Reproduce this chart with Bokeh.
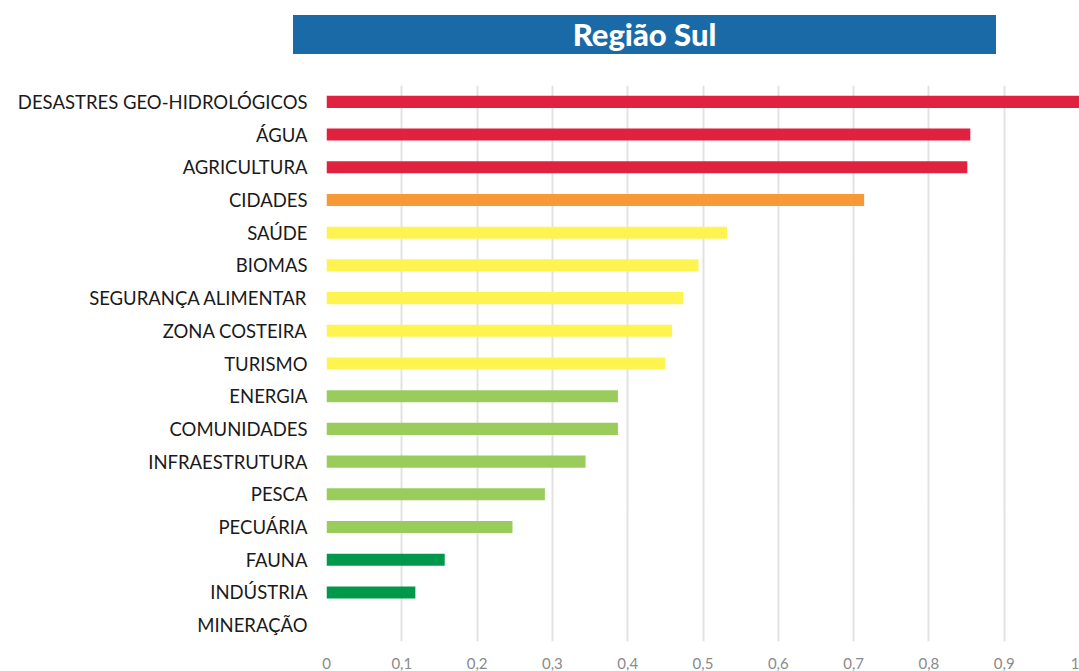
from bokeh.plotting import figure
from bokeh.models import Div, FactorRange, Range1d, FixedTicker, CustomJSTickFormatter
from bokeh.layouts import column
from bokeh.embed import file_html
from bokeh.resources import INLINE

categories = ["DESASTRES GEO-HIDROLÓGICOS", "ÁGUA", "AGRICULTURA", "CIDADES", "SAÚDE",
              "BIOMAS", "SEGURANÇA ALIMENTAR", "ZONA COSTEIRA", "TURISMO", "ENERGIA",
              "COMUNIDADES", "INFRAESTRUTURA", "PESCA", "PECUÁRIA", "FAUNA",
              "INDÚSTRIA", "MINERAÇÃO"]
values = [1.0, 0.855, 0.851, 0.714, 0.532, 0.494, 0.474, 0.459, 0.450, 0.387,
          0.387, 0.344, 0.290, 0.247, 0.157, 0.118, 0.0]
colors = ["#E0213F", "#E0213F", "#E0213F", "#F89938", "#FFF350", "#FFF350", "#FFF350",
          "#FFF350", "#FFF350", "#99CC5A", "#99CC5A", "#99CC5A", "#99CC5A", "#99CC5A",
          "#00994C", "#00994C", "#00994C"]
ticks = [0, 0.1, 0.2, 0.3, 0.4, 0.5, 0.6, 0.7, 0.8, 0.9, 1.0]
title = "Região Sul"

banner = Div(text=title, width=703, height=39, margin=(15, 0, 0, 293),
             styles={"background-color": "#1A6AA7", "color": "white",
                     "font-family": "Lato", "font-weight": "900", "font-size": "31px",
                     "text-align": "center", "line-height": "39px"})

p = figure(width=1079, height=617, output_backend="svg", toolbar_location=None,
           y_range=FactorRange(*reversed(categories)), x_range=Range1d(0, 1.0),
           min_border_left=326, min_border_right=0, min_border_top=31, min_border_bottom=28)
p.hbar(y=categories, right=values, height=0.37, fill_color=colors, line_color=None)

p.outline_line_color = None
p.ygrid.grid_line_color = None
p.xgrid.grid_line_color = "#E2E2E2"
p.xgrid.grid_line_width = 2
p.xaxis.ticker = FixedTicker(ticks=ticks)
p.xaxis.formatter = CustomJSTickFormatter(code="var s = tick.toFixed(1).replace('.', ','); return s == '0,0' ? '0' : (s == '1,0' ? '1' : s);")
for ax in (p.xaxis, p.yaxis):
    ax.axis_line_color = None
    ax.major_tick_line_color = None
    ax.minor_tick_line_color = None
p.xaxis.major_label_text_font = "Lato"
p.xaxis.major_label_text_font_size = "15px"
p.xaxis.major_label_text_color = "#8A8A8A"
p.xaxis.major_label_standoff = 10
p.yaxis.major_label_text_font = "Lato"
p.yaxis.major_label_text_font_size = "18.5px"
p.yaxis.major_label_text_color = "#1A1A1A"
p.yaxis.major_label_standoff = 13

layout = column(banner, p)
open("out.html", "w").write(file_html(layout, INLINE))
